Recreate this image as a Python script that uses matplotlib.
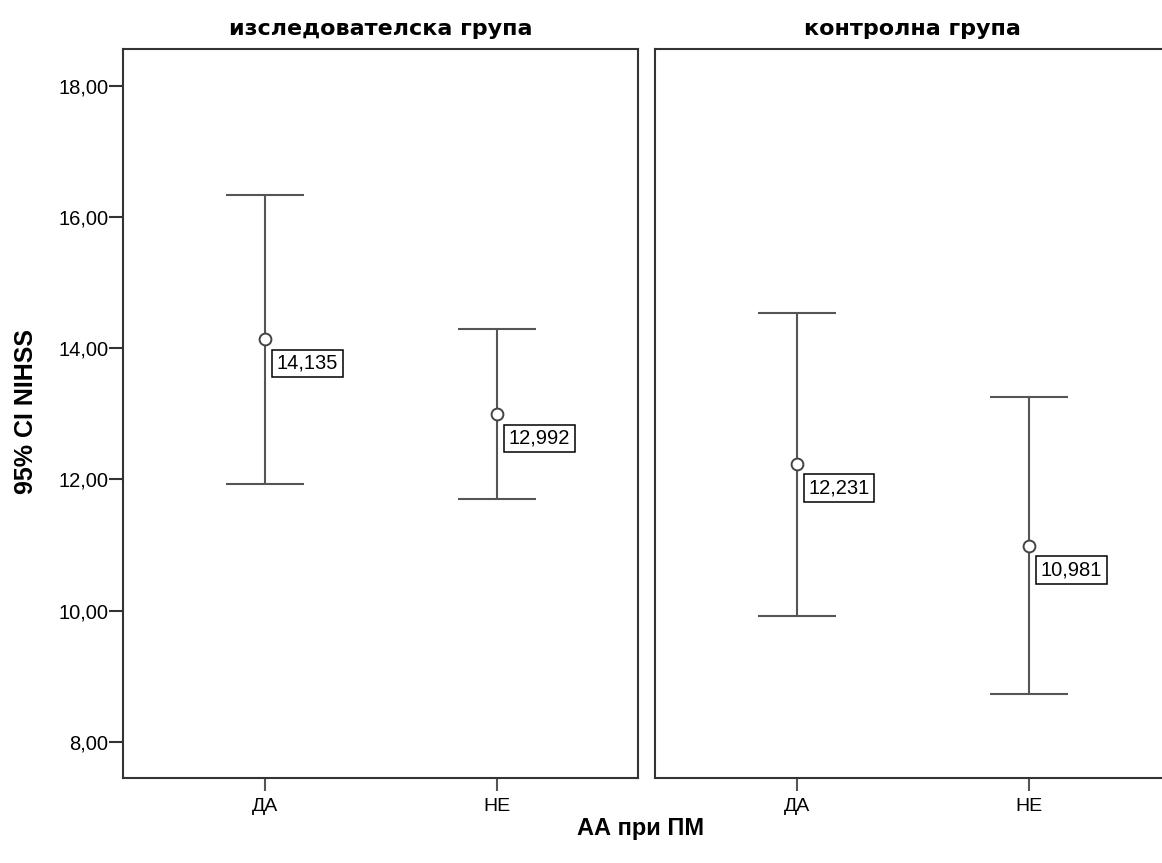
import numpy as np
import matplotlib.pyplot as plt

plt.rcParams['font.family'] = ['Liberation Sans', 'DejaVu Sans']

groups = ['изследователска група', 'контролна група']
categories = ['ДА', 'НЕ']
means = [[14.135, 12.992], [12.231, 10.981]]
lower = [[11.93, 11.70], [9.92, 8.73]]
upper = [[16.34, 14.30], [14.54, 13.26]]
mean_labels = [['14,135', '12,992'], ['12,231', '10,981']]
yticks = [8, 10, 12, 14, 16, 18]
ytick_labels = ['8,00', '10,00', '12,00', '14,00', '16,00', '18,00']

fig = plt.figure(figsize=(11.62, 8.63), dpi=100)

ax_w = 515 / 1162
ax_b = (863 - 778) / 863
ax_h = (778 - 49) / 863
lefts = [123 / 1162, 655 / 1162]

edge = '#555555'
for g, name in enumerate(groups):
    ax = fig.add_axes([lefts[g], ax_b, ax_w, ax_h])
    x = np.arange(len(categories))
    m = np.array(means[g])
    lo = np.array(lower[g])
    hi = np.array(upper[g])
    ax.errorbar(x, m, yerr=[m - lo, hi - m], fmt='none', ecolor=edge,
                elinewidth=1.5, capsize=28, capthick=1.5)
    ax.plot(x, m, 'o', mfc='white', mec='#444444', mew=1.4, ms=8.5, zorder=3)
    for i in range(len(categories)):
        ax.annotate(mean_labels[g][i], xy=(x[i], m[i]), xytext=(8.5, -10.5),
                    textcoords='offset points', ha='left', va='top',
                    fontsize=14.5, color='black', zorder=4,
                    bbox=dict(boxstyle='square,pad=0.22', fc='white',
                              ec='black', lw=1.1))
    ax.set_xlim(-0.612, 1.608)
    ax.set_ylim(7.45, 18.56)
    ax.set_xticks(x)
    ax.set_xticklabels(categories, fontsize=14)
    ax.tick_params(axis='x', direction='out', length=9, width=1.5,
                   color=edge, pad=5.5, top=False)
    for s in ax.spines.values():
        s.set_linewidth(1.5)
        s.set_color('#333333')
    if g == 0:
        ax.set_yticks(yticks)
        ax.set_yticklabels(ytick_labels, fontsize=14.5)
        ax.tick_params(axis='y', direction='out', length=10, width=1.5,
                       color='#333333', pad=0.5, right=False)
    else:
        ax.set_yticks([])
    ax.set_title(name, fontsize=16, fontweight='bold', pad=10,
                 family=['DejaVu Sans'])

fig.text(26 / 1162, 1 - 411 / 863, '95% CI NIHSS', rotation=90,
         ha='center', va='center', fontsize=18, fontweight='bold')
fig.text(641 / 1162, 1 - 828 / 863, 'АА при ПМ', ha='center', va='center',
         fontsize=17, fontweight='bold')

plt.savefig('out.png', dpi=100)
